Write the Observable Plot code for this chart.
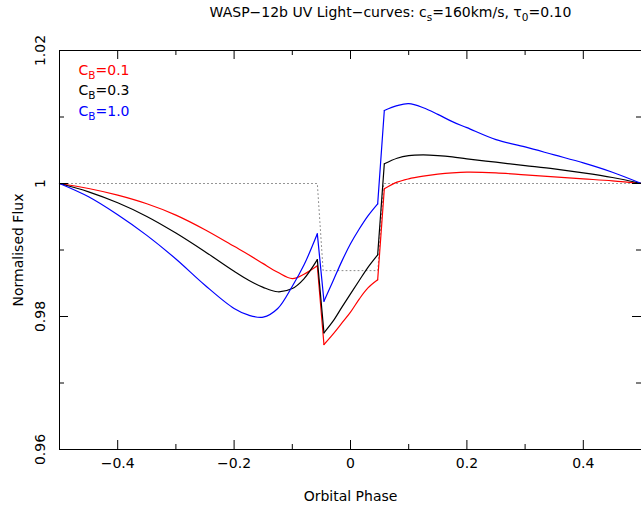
<!DOCTYPE html>
<html><head><meta charset="utf-8">
<script src="https://cdn.jsdelivr.net/npm/d3@7"></script>
<script src="https://cdn.jsdelivr.net/npm/@observablehq/plot@0.6"></script>
<style>html,body{margin:0;padding:0;background:#fff}svg{display:block}</style>
</head><body><div id="chart"></div>
<script>
// ---- data ----
const phase = [-0.5,-0.45,-0.4,-0.35,-0.3,-0.25,-0.2,-0.175,-0.15,-0.125,-0.1,-0.08,-0.057,-0.0456,-0.03,-0.015,0,0.015,0.03,0.0467,0.0581,0.08,0.1,0.125,0.15,0.175,0.2,0.25,0.3,0.35,0.4,0.45,0.5];
const fluxCB01 = [1.0,0.99925,0.99825,0.99695,0.99525,0.99305,0.99055,0.9893,0.98795,0.98665,0.9857,0.98635,0.98762,0.97579,0.97736,0.97900,0.98065,0.98262,0.9843,0.98552,0.9992,1.0002,1.0007,1.0011,1.0014,1.0016,1.0017,1.0016,1.0013,1.0010,1.0007,1.0004,1.0];
const fluxCB03 = [1.0,0.99875,0.9971,0.99505,0.99255,0.98975,0.9868,0.98545,0.98438,0.98372,0.9842,0.98567,0.98855,0.97755,0.97930,0.98137,0.98341,0.98542,0.98740,0.98928,1.00296,1.0038,1.0042,1.0043,1.0042,1.0040,1.0037,1.0032,1.0027,1.0022,1.0016,1.0009,1.0];
const fluxCB10 = [1.0,0.9980,0.9953,0.9922,0.98865,0.9847,0.9812,0.9802,0.9799,0.9812,0.98455,0.98773,0.99243,0.98230,0.98533,0.98829,0.99093,0.99315,0.99513,0.99694,1.01098,1.0117,1.0120,1.0114,1.0104,1.0093,1.0084,1.0066,1.0055,1.0043,1.0031,1.0017,1.0];
const breakIdx = [12,13,19,20];            // indices where the curves have sharp corners
const seriesNames = ["C_B=0.1","C_B=0.3","C_B=1.0"];
const seriesColors = ["#ff0000","#000000","#0000ff"];
const refPhase = [-0.5,-0.057,-0.047,0.047,0.057,0.5];
const refFlux = [1,1,0.9869,0.9869,1,1];
const xMajor = [-0.4,-0.2,0,0.2,0.4];
const xMajorLabels = ["−0.4","−0.2","0","0.2","0.4"];
const xMinor = [-0.3,-0.1,0.1,0.3];
const yMajor = [0.96,0.98,1,1.02];
const yMajorLabels = ["0.96","0.98","1","1.02"];
const yMinor = [0.97,0.99,1.01];
const titleText = "WASP−12b UV Light−curves: c_s=160km/s, τ_0=0.10";
const xLabel = "Orbital Phase";
const yLabel = "Normalised Flux";

// ---- layout ----
const W = 641, H = 508, ML = 59, MR = 0, MT = 50, MB = 59;
const PW = W - ML - MR, PH = H - MT - MB;
const MAJ = 9, MIN = 5;
const FS = 14;

// ---- build segmented rows ----
const series = [fluxCB01, fluxCB03, fluxCB10];
const bounds = [0, ...breakIdx, phase.length - 1];
const rowsFor = (arr) => {
  const rows = [];
  for (let k = 0; k < bounds.length - 1; k++)
    for (let i = bounds[k]; i <= bounds[k + 1]; i++)
      rows.push({phase: phase[i], flux: arr[i], seg: k});
  return rows;
};
const refRows = refPhase.map((p, i) => ({phase: p, flux: refFlux[i]}));

const marks = [
  Plot.line(refRows, {x: "phase", y: "flux", stroke: "#8a8a8a", strokeWidth: 1, strokeDasharray: "1,3"}),
  ...series.map((arr, s) => Plot.line(rowsFor(arr), {x: "phase", y: "flux", z: "seg", stroke: seriesColors[s], strokeWidth: 1.2, curve: "catmull-rom"})),
  // frame
  Plot.ruleY([0.96, 1.02], {stroke: "#000", strokeWidth: 1}),
  Plot.ruleX([-0.5], {stroke: "#000", strokeWidth: 1}),
  // inward ticks
  Plot.tickX(xMajor, {x: d => d, insetTop: PH - MAJ, stroke: "#000"}),
  Plot.tickX(xMinor, {x: d => d, insetTop: PH - MIN, stroke: "#000"}),
  Plot.tickX(xMajor, {x: d => d, insetBottom: PH - MAJ, stroke: "#000"}),
  Plot.tickX(xMinor, {x: d => d, insetBottom: PH - MIN, stroke: "#000"}),
  Plot.tickY(yMajor, {y: d => d, insetRight: PW - MAJ, stroke: "#000"}),
  Plot.tickY(yMinor, {y: d => d, insetRight: PW - MIN, stroke: "#000"}),
  Plot.tickY(yMajor, {y: d => d, insetLeft: PW - MAJ, stroke: "#000"}),
  Plot.tickY(yMinor, {y: d => d, insetLeft: PW - MIN, stroke: "#000"}),
  // tick labels
  Plot.axisX(xMajor, {anchor: "bottom", tickSize: 0, tickPadding: 9, tickFormat: d => xMajorLabels[xMajor.indexOf(d)], fontSize: FS, label: null}),
  Plot.text(yMajor, {y: d => d, text: d => yMajorLabels[yMajor.indexOf(d)], frameAnchor: "left", dx: -19, rotate: -90, textAnchor: "middle", lineAnchor: "middle", fontSize: FS}),
  // axis titles
  Plot.text([xLabel], {frameAnchor: "bottom", dy: 47, lineAnchor: "middle", textAnchor: "middle", fontSize: FS}),
  Plot.text([yLabel], {frameAnchor: "left", dx: -41, rotate: -90, textAnchor: "middle", lineAnchor: "middle", fontSize: FS}),
  // title
  Plot.text([titleText], {frameAnchor: "top", dx: 40, dy: -38, lineAnchor: "middle", textAnchor: "middle", fontSize: FS}),
  // legend
  ...seriesNames.map((name, i) => Plot.text([name], {frameAnchor: "top-left", dx: 19, dy: 20 + i * 20.5, textAnchor: "start", lineAnchor: "middle", fill: seriesColors[i], fontSize: FS}))
];

const chart = Plot.plot({
  width: W, height: H,
  marginLeft: ML, marginRight: MR, marginTop: MT, marginBottom: MB,
  x: {domain: [-0.5, 0.5], axis: null},
  y: {domain: [0.96, 1.02], axis: null},
  style: {fontFamily: "DejaVu Sans", fontSize: FS + "px", background: "#fff", color: "#000", overflow: "visible"},
  marks
});

// subscripts: "_x" -> subscript x
chart.querySelectorAll("text").forEach(t => {
  const s = t.textContent;
  if (!s.includes("_") || t.querySelector("tspan")) return;
  const parts = s.split(/_(.)/);
  t.textContent = "";
  parts.forEach((p, i) => {
    if (!p) return;
    const ts = document.createElementNS("http://www.w3.org/2000/svg", "tspan");
    ts.textContent = p;
    if (i % 2 === 1) { ts.setAttribute("dy", "4"); ts.setAttribute("font-size", "0.75em"); }
    else if (i > 0) ts.setAttribute("dy", "-4");
    t.appendChild(ts);
  });
});
document.getElementById("chart").appendChild(chart);
</script>
</body></html>
